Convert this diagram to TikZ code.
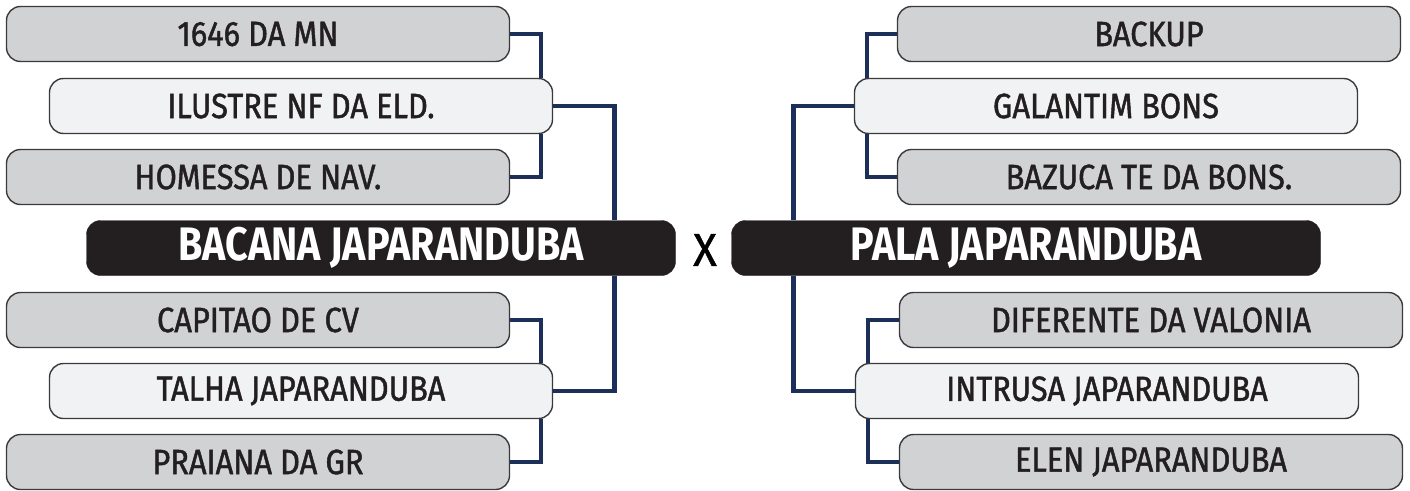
\documentclass[tikz,border=0pt]{standalone}
\usepackage{fontspec}
\setmainfont{Fira Sans}[FakeStretch=0.88]
\newfontfamily\entryfont{Fira Sans}[FakeStretch=0.88,UprightFeatures={FakeBold=1.3}]
\newfontfamily\teamfont{Fira Sans}[FakeStretch=0.84]
\newfontfamily\vsfont{Fira Sans}[FakeStretch=0.95,UprightFeatures={FakeBold=1}]
\usepackage{xcolor}
\definecolor{BoxGray}{HTML}{D1D2D4}
\definecolor{BoxLight}{HTML}{F1F2F3}
\definecolor{BoxDark}{HTML}{231F20}
\definecolor{LinkNavy}{HTML}{1B2F58}
\definecolor{EdgeGray}{HTML}{3A3A3C}
\usepackage{tikz}
\usetikzlibrary{positioning,backgrounds}

\begin{document}
\begin{tikzpicture}[x=1pt,y=-1pt,
  entry/.style={draw=EdgeGray,line width=1.4pt,rounded corners=14pt,minimum width=503pt,minimum height=55pt,inner sep=0pt,font=\entryfont\fontsize{35}{38}\selectfont,text=BoxDark},
  outer/.style={entry,fill=BoxGray},
  inner/.style={entry,fill=BoxLight},
  team/.style={draw=BoxDark,fill=BoxDark,rounded corners=14pt,minimum width=589pt,minimum height=55pt,inner sep=0pt,text=white,font=\teamfont\bfseries\fontsize{47}{50}\selectfont},
  link/.style={draw=LinkNavy,line width=4.5pt}
]
  \useasboundingbox (0,0) rectangle (1410,490);
  % left bracket
  \node[outer] (l1) at (258,34) {1646 DA MN};
  \node[inner] (l2) at (301,106) {ILUSTRE NF DA ELD.};
  \node[outer] (l3) at (258,177) {HOMESSA DE NAV.};
  \node[team]  (lt) at (381,248) {BACANA JAPARANDUBA};
  \node[outer] (l5) at (258,320) {CAPITAO DE CV};
  \node[inner] (l6) at (301,391) {TALHA JAPARANDUBA};
  \node[outer] (l7) at (258,462) {PRAIANA DA GR};
  % right bracket
  \node[outer] (r1) at (1149,34) {BACKUP};
  \node[inner] (r2) at (1106,106) {GALANTIM BONS};
  \node[outer] (r3) at (1149,177) {BAZUCA TE DA BONS.};
  \node[team]  (rt) at (1026,248) {PALA JAPARANDUBA};
  \node[outer] (r5) at (1151,320) {DIFERENTE DA VALONIA};
  \node[inner] (r6) at (1107,391) {INTRUSA JAPARANDUBA};
  \node[outer] (r7) at (1151,462) {ELEN JAPARANDUBA};
  \node[font=\vsfont\fontsize{46}{50}\selectfont,text=black] (vs) at (705,250) {X};
  % connectors
  \begin{scope}[on background layer]
    \draw[link] (l1.east) -| ([xshift=-12pt]l2.north east);
    \draw[link] ([xshift=-12pt]l2.south east) |- (l3.east);
    \draw[link] (l2.east) -| ([xshift=-61pt]lt.north east);
    \draw[link] ([xshift=-61pt]lt.south east) |- (l6.east);
    \draw[link] (l5.east) -| ([xshift=-12pt]l6.north east);
    \draw[link] ([xshift=-12pt]l6.south east) |- (l7.east);
    \draw[link] (r1.west) -| ([xshift=13pt]r2.north west);
    \draw[link] ([xshift=13pt]r2.south west) |- (r3.west);
    \draw[link] (r2.west) -| ([xshift=62pt]rt.north west);
    \draw[link] ([xshift=62pt]rt.south west) |- (r6.west);
    \draw[link] (r5.west) -| ([xshift=13pt]r6.north west);
    \draw[link] ([xshift=13pt]r6.south west) |- (r7.west);
  \end{scope}
\end{tikzpicture}
\end{document}
